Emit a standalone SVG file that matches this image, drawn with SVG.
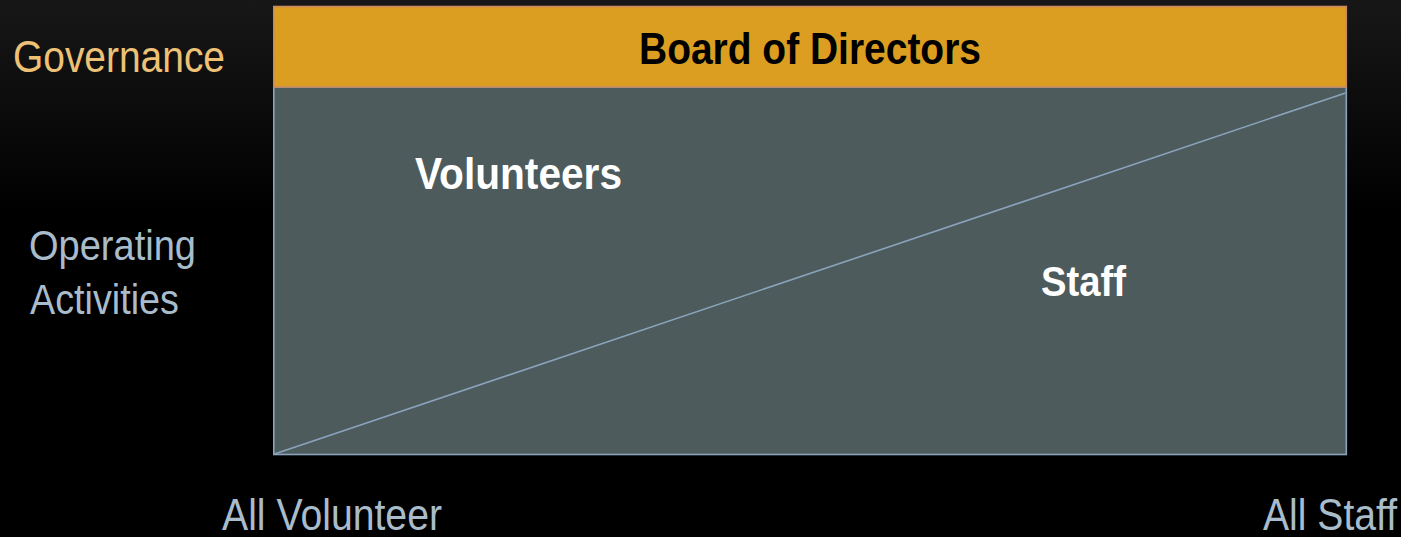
<svg xmlns="http://www.w3.org/2000/svg" width="1401" height="537" viewBox="0 0 1401 537">
  <defs>
    <linearGradient id="bg" x1="0" y1="0" x2="0" y2="1">
      <stop offset="0" stop-color="#171717"/>
      <stop offset="0.4" stop-color="#000000"/>
      <stop offset="1" stop-color="#000000"/>
    </linearGradient>
  </defs>
  <style>
    .axis { font-family: "Liberation Sans", Arial, sans-serif; fill: #A9BCCB; }
    .gov { font-family: "Liberation Sans", Arial, sans-serif; fill: #EEC276; }
    .bold { font-family: "Liberation Sans", Arial, sans-serif; font-weight: bold; }
    .edge { stroke: #8BA3BC; stroke-width: 1.6; }
    .area { fill: #4D5B5C; }
    .split { fill: none; }
  </style>

  <!-- backdrop -->
  <rect x="0" y="0" width="1401" height="537" fill="url(#bg)"/>

  <!-- row labels -->
  <g id="label-governance">
    <text class="gov" x="13" y="72" font-size="45" textLength="212" lengthAdjust="spacingAndGlyphs">Governance</text>
  </g>
  <g id="label-operating">
    <text class="axis" x="29" y="260" font-size="43" textLength="167" lengthAdjust="spacingAndGlyphs">Operating</text>
    <text class="axis" x="30" y="314" font-size="43" textLength="149" lengthAdjust="spacingAndGlyphs">Activities</text>
  </g>

  <!-- operating area -->
  <g id="operations">
    <rect x="273.8" y="87" width="1072.5" height="367.5" class="area edge"/>
    <text class="bold" x="415" y="189" font-size="44" fill="#FFFFFF" textLength="207" lengthAdjust="spacingAndGlyphs">Volunteers</text>
    <text class="bold" x="1041" y="296" font-size="43" fill="#FFFFFF" textLength="85" lengthAdjust="spacingAndGlyphs">Staff</text>
  </g>

  <!-- governance band -->
  <g id="board">
    <rect x="273.8" y="6.5" width="1072.5" height="80.5" fill="#DB9E20" stroke="#C98A63" stroke-width="1.6"/>
    <text class="bold" x="810" y="64" font-size="44" fill="#000000" text-anchor="middle" textLength="342" lengthAdjust="spacingAndGlyphs">Board of Directors</text>
  </g>

  <!-- split between volunteer and staff work -->
  <g id="connectors">
    <line class="edge split" x1="274.5" y1="454" x2="1345.5" y2="93"/>
  </g>

  <!-- axis ends -->
  <g id="label-all-volunteer">
    <text class="axis" x="222" y="530" font-size="45" textLength="220" lengthAdjust="spacingAndGlyphs">All Volunteer</text>
  </g>
  <g id="label-all-staff">
    <text class="axis" x="1263" y="530" font-size="45" textLength="134" lengthAdjust="spacingAndGlyphs">All Staff</text>
  </g>
</svg>
